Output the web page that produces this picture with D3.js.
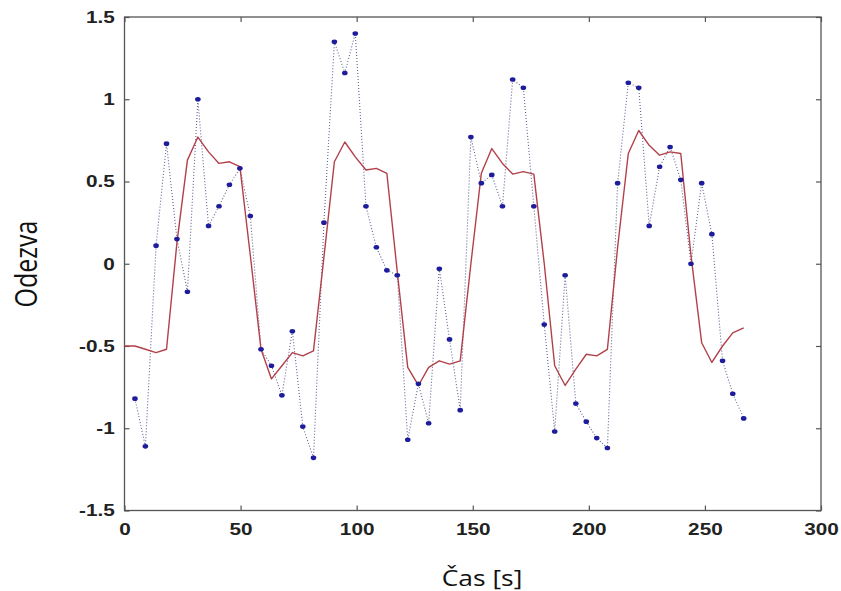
<!DOCTYPE html>
<html><head><meta charset="utf-8">
<script src="https://cdn.jsdelivr.net/npm/d3@7"></script>
<style>
body{margin:0;background:#fff;}
svg{display:block;}
</style></head>
<body>
<svg id="chart" width="841" height="591"></svg>
<script>
// measured response (blue dotted with markers)
const measTime = [4.5,9.0,13.6,18.1,22.6,27.1,31.6,36.2,40.7,45.2,49.7,54.2,58.8,63.3,67.8,72.3,76.8,81.4,85.9,90.4,
  94.9,99.4,104.0,108.5,113.0,117.5,122.0,126.6,131.0,135.6,140.0,144.6,149.2,153.7,158.2,162.8,167.2,171.8,176.3,180.8,
  185.3,189.8,194.4,198.9,203.4,208.0,212.4,217.0,221.5,226.0,230.5,235.0,239.6,244.0,248.6,253.0,257.6,262.0,266.7];
const measValue = [-0.82,-1.11,0.11,0.73,0.15,-0.17,1.00,0.23,0.35,0.48,0.58,0.29,-0.52,-0.62,-0.80,-0.41,-0.99,-1.18,0.25,1.35,
  1.16,1.40,0.35,0.10,-0.04,-0.07,-1.07,-0.73,-0.97,-0.03,-0.46,-0.89,0.77,0.49,0.54,0.35,1.12,1.07,0.35,-0.37,
  -1.02,-0.07,-0.85,-0.96,-1.06,-1.12,0.49,1.10,1.07,0.23,0.59,0.71,0.51,0.00,0.49,0.18,-0.59,-0.79,-0.94];
// model response (red line)
const modelTime = [0,4.5,9.0,13.6,18.1,22.6,27.1,31.6,36.2,40.7,45.2,49.7,54.2,58.8,63.3,67.8,72.3,76.8,81.4,85.9,90.4,
  94.9,99.4,104.0,108.5,113.0,117.5,122.0,126.6,131.0,135.6,140.0,144.6,149.2,153.7,158.2,162.8,167.2,171.8,176.3,180.8,
  185.3,189.8,194.4,198.9,203.4,208.0,212.4,217.0,221.5,226.0,230.5,235.0,239.6,244.0,248.6,253.0,257.6,262.0,266.7];
const modelValue = [-0.50,-0.50,-0.52,-0.54,-0.52,0.13,0.63,0.77,0.68,0.61,0.62,0.59,0.05,-0.52,-0.70,-0.62,-0.54,-0.56,-0.53,0.04,0.62,
  0.74,0.65,0.57,0.58,0.55,-0.05,-0.63,-0.74,-0.63,-0.59,-0.61,-0.59,0.00,0.55,0.70,0.61,0.545,0.56,0.545,0.00,
  -0.62,-0.74,-0.64,-0.55,-0.56,-0.52,0.10,0.67,0.81,0.72,0.66,0.68,0.67,0.05,-0.48,-0.60,-0.50,-0.42,-0.39];
const xTicks = [0,50,100,150,200,250,300];
const yTicks = [-1.5,-1,-0.5,0,0.5,1,1.5];
const xLabel = "Čas [s]";
const yLabel = "Odezva";

const svg = d3.select("#chart");
const L = 124.5, R = 821, T = 17, B = 510.5;
const x = d3.scaleLinear().domain([0,300]).range([L,R]);
const y = d3.scaleLinear().domain([-1.5,1.5]).range([B,T]);

const axisColor = "#555";
svg.append("rect").attr("x",L).attr("y",T).attr("width",R-L).attr("height",B-T)
  .attr("fill","none").attr("stroke",axisColor).attr("stroke-width",1.3);

const fmt = d => (d===0?"0":String(d));
const tickFont = "'Liberation Sans', Arial, sans-serif";
const gx = svg.append("g").attr("transform",`translate(0,${B})`)
  .call(d3.axisBottom(x).tickValues(xTicks).tickFormat(fmt).tickSizeInner(-5).tickSizeOuter(0).tickPadding(12));
const gxt = svg.append("g").attr("transform",`translate(0,${T})`)
  .call(d3.axisTop(x).tickValues(xTicks).tickFormat("").tickSizeInner(-5).tickSizeOuter(0));
const gy = svg.append("g").attr("transform",`translate(${L},0)`)
  .call(d3.axisLeft(y).tickValues(yTicks).tickFormat(fmt).tickSizeInner(-5).tickSizeOuter(0).tickPadding(8));
const gyr = svg.append("g").attr("transform",`translate(${R},0)`)
  .call(d3.axisRight(y).tickValues(yTicks).tickFormat("").tickSizeInner(-5).tickSizeOuter(0));
[gx,gxt,gy,gyr].forEach(g=>{
  g.select(".domain").remove();
  g.selectAll(".tick line").attr("stroke",axisColor).attr("stroke-width",1.2);
  g.selectAll(".tick text").attr("fill","#222").style("font-family",tickFont)
   .style("font-size","17px").style("font-weight","bold").attr("transform","scale(1.22,1)");
});

// measured: dotted line + markers
const lineM = d3.line().x((d,i)=>x(measTime[i])).y(d=>y(d));
svg.append("path").datum(measValue).attr("d",lineM).attr("fill","none")
  .attr("stroke","#2a2f6e").attr("stroke-width",1.1).attr("stroke-dasharray","1,2").attr("opacity",0.75);

// model line
const lineR = d3.line().x((d,i)=>x(modelTime[i])).y(d=>y(d));
svg.append("path").datum(modelValue).attr("d",lineR).attr("fill","none")
  .attr("stroke","#b2404a").attr("stroke-width",1.4).attr("stroke-linejoin","round");

svg.append("g").selectAll("ellipse").data(measValue).join("ellipse")
  .attr("cx",(d,i)=>x(measTime[i])).attr("cy",d=>y(d)).attr("rx",2.8).attr("ry",2.3).attr("fill","#1c1c9c");

// axis titles
const titleFont = "'Open Sans', 'Noto Sans', sans-serif";
svg.append("text").attr("transform","translate(482,586) scale(1.2,1)").attr("text-anchor","middle")
  .style("font-family",titleFont).style("font-size","22px").attr("fill","#111").text(xLabel);
svg.append("text").attr("transform","translate(37,264) rotate(-90) scale(1,1.25)").attr("text-anchor","middle")
  .style("font-family",titleFont).style("font-size","25px").attr("fill","#111").text(yLabel);
</script>
</body></html>
